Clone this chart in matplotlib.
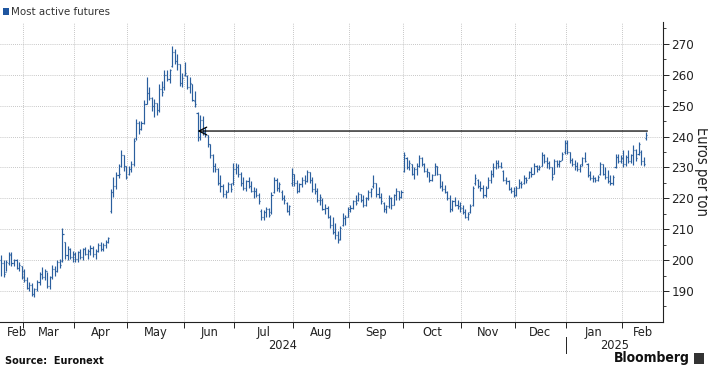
import numpy as np
import pandas as pd
import matplotlib
matplotlib.use("Agg")
import matplotlib.pyplot as plt
from matplotlib.patches import Rectangle
from matplotlib.transforms import blended_transform_factory

# ---------------- data (Euronext milling wheat, most active futures, EUR/t) -------------
start_date = "2024-02-19"
end_date = "2025-02-14"
holidays = ["2024-03-29", "2024-04-01", "2024-05-01", "2024-12-25", "2024-12-26", "2025-01-01"]

opens = [
    200, 199, 196, 199, 201.5, 199, 200, 197.5, 198,
    196.5, 193.5, 191, 192, 189, 190.5, 193, 195.5, 194.5, 196.5, 191.5, 194.5, 197, 196.5, 199.5, 199.8, 206, 201.5, 203.5, 201,
    202, 200.5, 202.5, 201, 203.5, 202, 203, 204, 202, 203, 205, 203.5, 205, 206, 216, 222, 224, 227.5, 230.5, 234, 230.5,
    228, 229.5, 231, 239.5, 244.5, 242.5, 244.5, 250.5, 254, 252.5, 250, 251, 248.5, 255.5, 256, 260, 258.5, 263, 267.5, 264.5, 263.5, 257.5,
    260, 259.5, 256, 257, 251.5, 247.5, 240, 245.5, 241.5, 240.5, 237.5, 234, 230.5, 229.5, 225, 224, 221.5, 222, 224.5, 225,
    229.5, 230, 228, 225, 223.5, 225.5, 224, 222.5, 222.5, 221, 216, 214, 215.5, 216.5, 215.5, 222, 226, 223.5, 222, 220, 218.5, 216, 225,
    228, 225, 222.5, 224.5, 226, 225.5, 228.5, 226, 223, 222.5, 219.5, 219.5, 216.5, 217, 214, 211.5, 209, 208, 207, 211.5, 213.5, 214,
    216.5, 217, 219, 219.5, 221.5, 219.5, 218, 220, 222, 224, 225, 221.5, 220.5, 218.5, 216.5, 217.5, 220, 218, 221, 222.5, 220.5,
    229, 233, 230, 231, 228, 229.5, 230.5, 233, 231, 229, 228.5, 226, 227.5, 230.5, 228, 224, 223, 222, 220, 216.5, 219, 218, 217.5,
    217, 215.5, 214, 215.5, 218, 225, 226, 224, 223.5, 221, 223.5, 226, 228, 230, 231.5, 230.5, 229, 226, 225.5, 223, 222.5,
    221, 223.5, 225, 225, 226.5, 226.5, 228.5, 228, 230.5, 229.5, 230.5, 234, 232, 231.5, 230, 228, 232, 231, 232.5, 235,
    238, 235, 232.5, 231, 230.5, 229.5, 231, 233, 231, 227.5, 226.5, 226.5, 226, 228, 231, 228, 227, 225.5, 225, 230, 233.5, 232,
    233, 231, 233.5, 232, 234, 235.5, 234.5, 235, 232, 239.5,
]

highs = [
    201.5, 200, 200, 202.7, 202.5, 200.5, 200.5, 199.5, 198,
    197, 194.5, 193, 192.5, 191, 193.5, 196, 197.8, 197, 196, 195, 198.4, 198, 200, 200.5, 210.3, 206, 204.5, 204, 203,
    202.5, 203, 203.5, 204, 204.3, 203.5, 204.9, 204.5, 203.5, 205.5, 205.8, 205.5, 206.5, 207.6, 223, 226.8, 228.5, 231, 235.5, 234, 230.6,
    230.5, 232, 239.5, 245.7, 245.2, 245, 251.7, 259.2, 256, 252.8, 252.2, 251, 257, 258, 261.4, 261.4, 262, 269.2, 268.5, 266.8, 263.6, 260.5,
    264, 259.8, 259.2, 257, 254.9, 247.9, 247, 246.8, 243, 240.5, 237.5, 234.5, 231.3, 229.7, 227.5, 224.5, 222.7, 225.4, 225, 231.3,
    231.3, 231, 228.6, 227, 226, 227, 225.5, 223.7, 223.5, 221.6, 216.5, 216.2, 217.3, 217, 222, 227, 226.5, 225.4, 222.7, 221, 218.9, 218, 229.7,
    228, 226, 225, 227, 227.5, 229.1, 228.5, 227, 225, 223.2, 221.5, 220, 218.3, 217.5, 214.5, 214, 211.9, 209.5, 211, 215.1, 214.5, 217.3,
    217.8, 219.5, 221, 222.1, 221.5, 221, 220.5, 222.7, 223.5, 227.5, 225, 223.7, 221.6, 218.9, 218, 221, 220.5, 221.5, 223.2, 222.5, 222.7,
    235.1, 233.5, 232.5, 231, 230.2, 231.3, 234, 233.5, 231.5, 229.7, 228.5, 228, 231.3, 230.5, 228, 225.5, 224.3, 222.5, 221, 219.5, 220.5, 219.5, 218.9,
    218, 216.5, 215.5, 218.3, 224, 228, 226.4, 225.5, 224.3, 224, 227, 229.1, 231.3, 232.4, 232.4, 231.8, 229.1, 227, 225.9, 223.7, 223.7,
    224, 226.4, 225.5, 227.5, 227, 229, 230.2, 231.3, 230.8, 230.8, 235, 234.5, 233.5, 232, 230.2, 232.9, 232.5, 232.4, 235, 238.9,
    239, 235, 233, 232.4, 231.8, 231, 233.5, 235, 231.3, 229, 227.5, 227, 227.5, 231.8, 231, 230.2, 229.1, 227.5, 227.5, 234.5, 234.5, 234,
    235.6, 234, 235.6, 234.5, 237.2, 236, 238.3, 235.6, 233.5, 241.6,
]

lows = [
    195, 194.6, 196.5, 198.5, 198, 198, 197, 196.5, 194,
    193, 190.5, 190, 188.5, 188, 190, 192, 194, 193.5, 191, 190.8, 194, 195, 196, 197.5, 199.5, 200.5, 200, 200.5, 199.5,
    199.5, 199.5, 200.5, 200, 201.5, 200.5, 201.5, 201, 200.5, 202.5, 203, 202.8, 204, 205.4, 215.2, 220.4, 223, 226.5, 230, 229, 226.3,
    227.5, 228.5, 230.5, 239, 241, 242, 244, 250.5, 251.7, 248.4, 246.3, 247, 248, 253, 255, 258, 257.5, 262.5, 263.6, 261.4, 256.5, 256,
    259.5, 255.5, 254, 251.5, 249.5, 238.7, 239, 240.5, 240, 236.5, 233, 228.6, 228.6, 224.3, 222.1, 220.5, 220, 222, 222.1, 224.3,
    228, 227, 224, 222.7, 222.5, 223.5, 222.1, 220, 220.5, 218.3, 213, 212.9, 214, 214, 215, 221.6, 222.5, 222.1, 219.5, 218.3, 215.5, 214.6, 224,
    224, 221.6, 222, 223.7, 224.5, 225.4, 225, 222.1, 221.5, 218.9, 218, 216.2, 215, 213.5, 210.5, 208.6, 207, 205.4, 206.5, 211, 211.3, 214,
    215.6, 216.5, 217.8, 219, 218.9, 217.3, 217.5, 219.4, 220.5, 223.2, 220.5, 220, 218.3, 215.5, 215.1, 217, 216.7, 218, 219.4, 219.5, 220,
    228.6, 229.5, 229.1, 227.5, 226.4, 227.5, 230.2, 230.5, 228.5, 227, 225.4, 225.5, 227.5, 227.5, 223.2, 222.5, 221.6, 219.5, 215.6, 216, 217.5, 216.7, 215.6,
    215, 213.5, 212.9, 215.1, 217.5, 224.3, 223.2, 222.5, 220, 220.5, 223.2, 225, 227, 229.5, 229.7, 229.7, 225.5, 224.8, 222.7, 221.6, 220.5,
    220.8, 223.2, 223.5, 224.8, 225, 226.5, 227, 228, 228.5, 229.1, 230.5, 231.3, 229.7, 229.5, 225.9, 228, 230.2, 230.2, 232.4, 234.5,
    234.5, 231.3, 230.5, 229.1, 229, 228.6, 230.5, 231.8, 227, 225.9, 225.4, 225.4, 225.5, 227.5, 227.5, 226.4, 225, 224.3, 224.3, 229.7, 231.3, 231.3,
    230.2, 230.5, 231.3, 231.5, 230.8, 232, 234, 230.8, 230.5, 238.9,
]

closes = [
    199, 195.5, 199.5, 202, 199, 200, 197.5, 198.5, 194.5,
    193.5, 191, 192, 189, 190.5, 193, 195.5, 194.5, 196.5, 191.5, 194.5, 197, 196.5, 199.5, 198.5, 208.5, 201.5, 203.5, 201, 202,
    200.5, 202.5, 201, 203.5, 202, 203, 204, 202, 203, 205, 203.5, 205, 206, 207.2, 222, 224, 227.5, 228, 234, 230.5, 227,
    229.5, 231, 238.5, 244.5, 242.5, 244.5, 250.5, 254, 252.5, 250, 251, 248.5, 255.5, 254.5, 260, 258.5, 261.5, 267.5, 264.5, 263.5, 257.5, 259,
    260.5, 256, 257.5, 252, 250.5, 240, 245.5, 241.5, 241, 237.5, 234, 230.5, 229.5, 225, 224, 221.5, 222, 224.5, 223, 229.5,
    230, 228, 225, 223.5, 225.5, 224, 222.5, 222.5, 221, 219, 214, 215.5, 216.5, 214.5, 221, 226, 223.5, 224.5, 220, 219.5, 216, 217.5, 228,
    225, 222.5, 224.5, 226, 225.5, 228.5, 226, 223, 222.5, 219.5, 220.5, 216.5, 217, 214, 211.5, 209, 208, 206.5, 210.5, 213.5, 214, 216.5,
    217, 219, 218.5, 221.5, 219.5, 218, 220, 222, 223, 225, 221.5, 220.5, 219, 216.5, 217.5, 220, 218, 221, 222.5, 220.5, 222,
    234, 230, 231.5, 228, 229.5, 230.5, 233, 231, 229, 228.5, 226, 227.5, 230.5, 228, 224, 223, 222, 220, 216.5, 219, 218, 217.5, 217,
    215.5, 214, 215, 217.5, 223.5, 226.5, 224, 223.5, 221, 223.5, 226, 228, 230, 231.5, 230.5, 230, 226, 225.5, 223, 222.5, 221,
    223.5, 225, 224.5, 226.5, 226, 228.5, 228, 230.5, 229.5, 230, 234, 232, 231.5, 230, 227, 232, 231, 232, 234.5, 238,
    235, 232.5, 231, 230.5, 229.5, 230.5, 233, 232, 227.5, 226.5, 226.5, 226, 227, 231, 228, 227, 225.5, 225, 227, 233.5, 232, 233,
    231, 233.5, 232, 234, 235.5, 233, 237.5, 232, 231, 240.5,
]

arrow_level = 241.8           # EUR/t, level marked by the horizontal arrow
arrow_target_date = "2024-06-10"

y_ticks = [190, 200, 210, 220, 230, 240, 250, 260, 270]
y_limits = (180, 277.1)

# ---------------- styling ----------------
BAR = "#2b5f9e"
GRID = "#b4b4b4"
plt.rcParams["font.family"] = ["DejaVu Sans"]
plt.rcParams["font.stretch"] = "condensed"

dates = pd.bdate_range(start_date, end_date)
dates = dates[~dates.isin(pd.to_datetime(holidays))]
n = min(len(dates), len(closes), len(opens), len(highs), len(lows))
dates = dates[:n]
x = np.arange(n)
o = np.array(opens[:n]); h = np.array(highs[:n]); l = np.array(lows[:n]); c = np.array(closes[:n])

fig = plt.figure(figsize=(7.08, 3.73), dpi=100)
fig.patch.set_facecolor("white")
ax = fig.add_axes([0.0, 0.137, 0.9364, 0.804])
ax.set_facecolor("white")

# OHLC bars
tick_w = 0.42
ax.vlines(x, l, h, color=BAR, lw=0.85, zorder=3)
ax.hlines(o, x - tick_w, x, color=BAR, lw=0.85, zorder=3)
ax.hlines(c, x, x + tick_w, color=BAR, lw=0.85, zorder=3)

ax.set_xlim(-0.5, n + 5.6)
ax.set_ylim(*y_limits)

# month boundaries
periods = dates.to_period("M")
change = np.where(periods[1:] != periods[:-1])[0] + 1
bounds = change - 0.5
ax.set_xticks(bounds)
ax.set_xticklabels([])
edges = np.concatenate([[-0.5], bounds, [ax.get_xlim()[1]]])
mids = (edges[:-1] + edges[1:]) / 2
mids[0] = max(mids[0], 6.3)
month_names = [p.strftime("%b") for p in periods[np.concatenate([[0], change])]]
ax.set_xticks(mids, minor=True)
ax.set_xticklabels(month_names, minor=True, fontsize=9.2)
ax.tick_params(axis="x", which="major", length=4, width=0.7, color="#222222", direction="out")
ax.tick_params(axis="x", which="minor", length=0, pad=3, colors="#222222")

# y axis on the right
ax.yaxis.tick_right()
ax.yaxis.set_label_position("right")
ax.set_yticks(y_ticks)
ax.set_yticks(np.arange(185, 276, 10), minor=True)
ax.tick_params(axis="y", which="major", length=4, width=0.7, labelsize=9.5, pad=2, colors="#222222")
ax.tick_params(axis="y", which="minor", length=2.5, width=0.6, color="#222222")
ax.set_ylabel("Euros per ton", rotation=270, fontsize=10.5, labelpad=11, color="#222222")

for s in ["left", "top"]:
    ax.spines[s].set_visible(False)
for s in ["right", "bottom"]:
    ax.spines[s].set_color("#222222")
    ax.spines[s].set_linewidth(0.8)

# grid
for yv in y_ticks:
    ax.axhline(yv, color=GRID, lw=0.6, ls=(0, (1, 1.5)), zorder=1)
for xb in bounds:
    ax.axvline(xb, color=GRID, lw=0.6, ls=(0, (1, 1.5)), zorder=1)

# year labels and separator
trans = blended_transform_factory(ax.transData, ax.transAxes)
years = dates.year
yb = np.where(years[1:] != years[:-1])[0] + 1
year_edges = np.concatenate([[-0.5], yb - 0.5, [ax.get_xlim()[1]]])
year_vals = [years[0]] + [years[i] for i in yb]
for k, yv in enumerate(year_vals):
    ax.text((year_edges[k] + year_edges[k + 1]) / 2, -0.078, str(yv), transform=trans,
            ha="center", va="center", fontsize=9.2, color="#222222")
for e in yb - 0.5:
    ax.plot([e, e], [-0.05, -0.105], transform=trans, color="#222222", lw=0.7, clip_on=False)

# arrow
target_idx = int(np.searchsorted(dates, pd.Timestamp(arrow_target_date)))
ax.annotate("", xy=(target_idx, arrow_level), xytext=(n - 0.5, arrow_level),
            arrowprops=dict(arrowstyle="->", color="black", lw=0.9, mutation_scale=14,
                            shrinkA=0, shrinkB=0), zorder=4)

# legend
fig.patches.append(Rectangle((3 / 708, 1 - 15 / 373), 6 / 708, 7 / 373, transform=fig.transFigure,
                             facecolor="#1f56a0", edgecolor="none"))
fig.text(11 / 708, 1 - 12 / 373, "Most active futures", fontsize=8.2, va="center", ha="left",
         color="#333333")

# footer
fig.text(5 / 708, 1 - 361 / 373, "Source:  Euronext", fontsize=7.8, fontweight="bold",
         va="center", ha="left", color="#111111")
fig.text(690 / 708, 1 - 358 / 373, "Bloomberg", fontsize=10, fontweight="bold",
         va="center", ha="right", color="#111111")
fig.patches.append(Rectangle((694 / 708, 1 - 364 / 373), 10 / 708, 11 / 373, transform=fig.transFigure,
                             facecolor="#333333", edgecolor="none"))

fig.savefig("out.png", dpi=100, facecolor="white")
